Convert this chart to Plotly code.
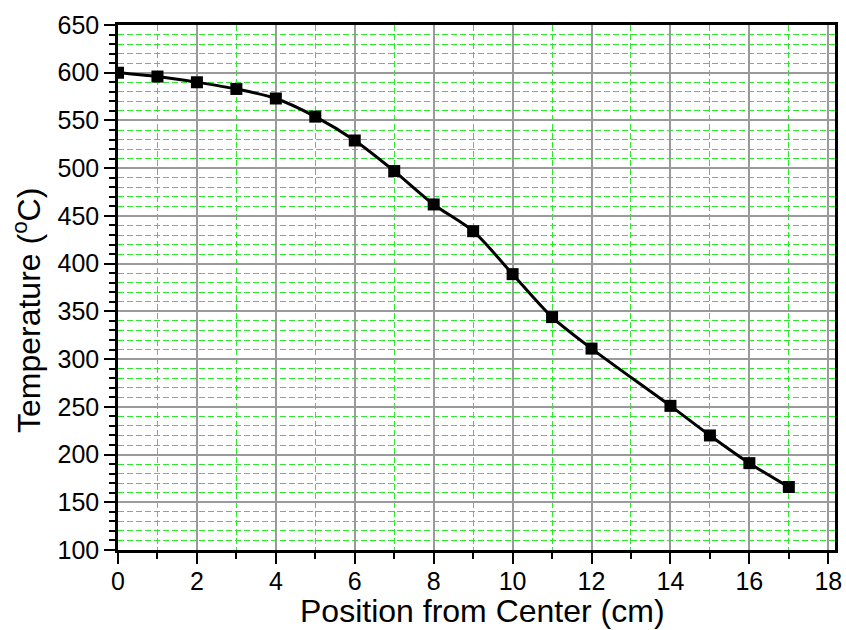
import plotly.graph_objects as go

position_cm = [0, 1, 2, 3, 4, 5, 6, 7, 8, 9, 10, 11, 12, 14, 15, 16, 17]
temperature_c = [600, 596, 590, 583, 573, 554, 529, 497, 462, 434, 389, 344, 311, 251, 220, 191, 166]

x_ticks = [0, 2, 4, 6, 8, 10, 12, 14, 16, 18]
y_ticks = [100, 150, 200, 250, 300, 350, 400, 450, 500, 550, 600, 650]

x_title = "Position from Center (cm)"
y_title = "Temperature (<sup>o</sup>C)"

FONT = "Liberation Sans, Arial, sans-serif"
GREEN = "#2ee82e"

fig = go.Figure()
fig.add_trace(go.Scatter(
    x=position_cm, y=temperature_c,
    mode="lines+markers",
    line=dict(color="black", width=3, shape="spline", smoothing=0.8),
    marker=dict(symbol="square", size=12, color="black"),
    showlegend=False,
))

axis_common = dict(
    showline=True, linewidth=2.5, linecolor="black", mirror=True,
    ticks="outside", ticklen=11, tickwidth=2, tickcolor="black",
    showgrid=True, gridcolor="#9a9a9a", gridwidth=1.5,
    zeroline=False,
    tickfont=dict(family=FONT, size=25, color="black"),
)

fig.update_xaxes(
    **axis_common,
    range=[0, 18.17],
    tickvals=x_ticks,
    ticklabelstandoff=-4,
    minor=dict(dtick=1, tick0=0, ticks="outside", ticklen=6, tickwidth=1.5, tickcolor="black",
               showgrid=True, gridcolor=GREEN, griddash="6px,3px", gridwidth=1),
)
fig.update_yaxes(
    **axis_common,
    range=[100, 650],
    tickvals=y_ticks,
    minor=dict(dtick=10, tick0=100, ticks="outside", ticklen=6, tickwidth=1.5, tickcolor="black",
               showgrid=True, gridcolor=GREEN, griddash="6px,3px", gridwidth=1),
)

# axis titles placed as annotations to match the reference positions
fig.add_annotation(
    text=x_title, xref="paper", yref="paper", x=0.509, y=-0.116,
    xanchor="center", yanchor="middle", showarrow=False,
    font=dict(family=FONT, size=32, color="black"),
)
fig.add_annotation(
    text=y_title, xref="paper", yref="paper", x=-0.127, y=0.457,
    xanchor="center", yanchor="middle", showarrow=False, textangle=-90,
    font=dict(family=FONT, size=32, color="black"),
)

fig.update_layout(
    width=846, height=630,
    margin=dict(l=118, r=11, t=25, b=80, autoexpand=False),
    paper_bgcolor="white", plot_bgcolor="white",
    font=dict(family=FONT, color="black"),
)

fig.write_html("out.html", config={"displayModeBar": False},
               post_script="document.body.style.margin='0';")
